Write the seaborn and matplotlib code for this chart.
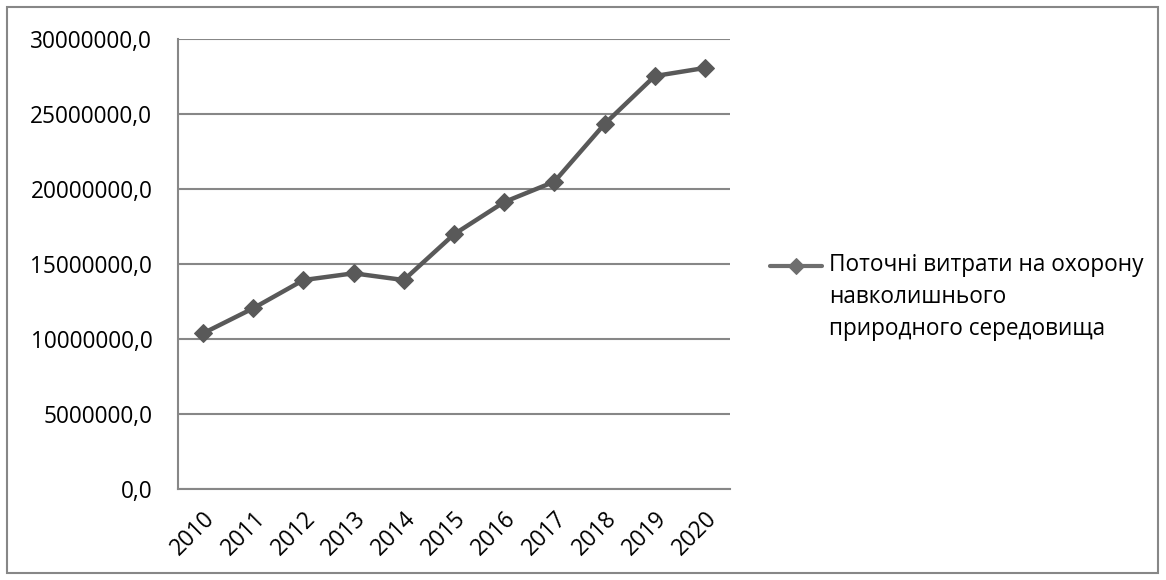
import matplotlib
matplotlib.use("Agg")
import matplotlib.pyplot as plt
from matplotlib.patches import Rectangle
from matplotlib.lines import Line2D
from matplotlib.legend_handler import HandlerLine2D
from matplotlib.ticker import FixedLocator, FuncFormatter
import numpy as np
import pandas as pd
import seaborn as sns

years = ["2010", "2011", "2012", "2013", "2014", "2015",
         "2016", "2017", "2018", "2019", "2020"]
expenses = [10380000, 12050000, 13930000, 14380000, 13930000, 16980000,
            19130000, 20490000, 24330000, 27530000, 28070000]
series_name = "Поточні витрати на охорону\nнавколишнього\nприродного середовища"
y_ticks = [0, 5000000, 10000000, 15000000, 20000000, 25000000, 30000000]

df = pd.DataFrame({"year": years, "value": expenses, "series": series_name})

sns.set_style("white")
plt.rcParams["font.family"] = ["Open Sans", "DejaVu Sans"]
plt.rcParams["text.color"] = "black"
plt.rcParams["xtick.color"] = "black"
plt.rcParams["ytick.color"] = "black"

grid_col = "#878787"
line_col = "#595959"
fs = 16.3


class TopAlignedLineHandler(HandlerLine2D):
    """Legend line handler that lifts the sample up to the first text line."""

    def __init__(self, dy=0.0, **kw):
        super().__init__(**kw)
        self.dy = dy

    def create_artists(self, legend, orig_handle, xdescent, ydescent,
                       width, height, fontsize, trans):
        arts = super().create_artists(legend, orig_handle, xdescent, ydescent,
                                      width, height, fontsize, trans)
        for a in arts:
            a.set_ydata(np.asarray(a.get_ydata(), dtype=float) + self.dy)
        return arts


fig = plt.figure(figsize=(11.66, 5.8), dpi=100)
ax = fig.add_axes([178 / 1166, 1 - 489 / 580, (730 - 178) / 1166, (489 - 39) / 580])

sns.lineplot(data=df, x="year", y="value", hue="series", palette=[line_col],
             marker="D", markersize=9.5, markeredgecolor=line_col,
             linewidth=3.2, sort=False, ax=ax)

ax.set_ylim(0, 30000000)
ax.set_xlim(-0.5, len(years) - 0.5)
ax.set_yticks(y_ticks)
ax.yaxis.set_major_formatter(FuncFormatter(lambda v, p: f"{v:.1f}".replace(".", ",")))
ax.grid(axis="y", color=grid_col, linewidth=1.5)
ax.set_axisbelow(True)

# category labels centred, tick marks on category boundaries
ax.set_xticks(range(len(years)))
ax.set_xticklabels(years, rotation=45, ha="right", rotation_mode="anchor")
ax.xaxis.set_minor_locator(FixedLocator([i - 0.5 for i in range(len(years) + 1)]))
ax.tick_params(axis="x", which="major", length=0, pad=13, labelsize=fs)
ax.tick_params(axis="x", which="minor", length=6.5, width=1.5, color=grid_col, direction="out")
ax.tick_params(axis="y", length=6.5, width=1.5, color=grid_col, direction="out",
               labelsize=fs, pad=12, labelcolor="black")
ax.set_xlabel("")
ax.set_ylabel("")

for side in ("top", "right"):
    ax.spines[side].set_visible(False)
for side in ("left", "bottom"):
    ax.spines[side].set_color(grid_col)
    ax.spines[side].set_linewidth(1.5)

old = ax.get_legend()
handles = list(old.legend_handles)
labels = [t.get_text() for t in old.get_texts()]
old.remove()
for h in handles:
    h.set_markersize(8)
    h.set_linewidth(3.0)
    h.set_color("#6e6e6e")
    h.set_markeredgecolor("#6e6e6e")
    h.set_markerfacecolor("#6e6e6e")

leg = ax.legend(handles, labels, loc="upper left",
                bbox_to_anchor=(770 / 1166, 1 - 253 / 580),
                bbox_transform=fig.transFigure, frameon=False, fontsize=fs,
                borderpad=0, borderaxespad=0,
                handlelength=2.3, handletextpad=0.3,
                handler_map={Line2D: TopAlignedLineHandler(dy=23.4)})
for t in leg.get_texts():
    t.set_linespacing(1.45)
    t.set_color("black")

fig.patches.append(Rectangle((7 / 1166, 7 / 580), 1151 / 1166, 566 / 580,
                             transform=fig.transFigure, fill=False,
                             edgecolor=grid_col, linewidth=1.5))

fig.savefig("out.png", dpi=100)
